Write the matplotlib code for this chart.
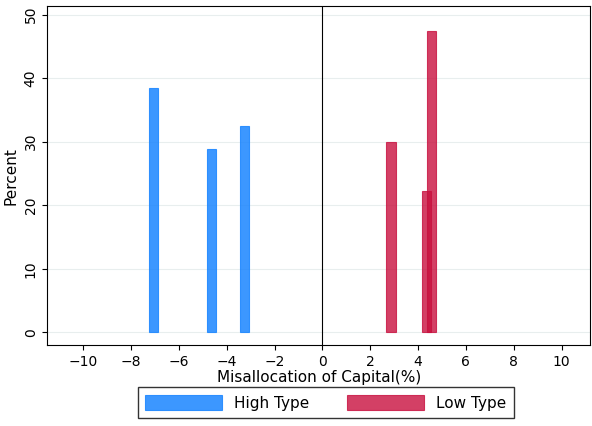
import matplotlib.pyplot as plt

high_x = [-7.07, -4.62, -3.24]
high_pct = [38.5, 28.8, 32.5]
low_x = [2.87, 4.35, 4.57]
low_pct = [30.0, 22.2, 47.5]
xticks = list(range(-10, 11, 2))
yticks = [0, 10, 20, 30, 40, 50]

fig = plt.figure(figsize=(5.92, 4.26), dpi=100)
ax = fig.add_axes([0.08, 0.19, 0.917, 0.795])
w = 0.38
ax.bar(high_x, high_pct, width=w, color="#1a85ff", alpha=0.85, edgecolor="#1a85ff", linewidth=0.8, label="High Type")
ax.bar(low_x, low_pct, width=w, color="#c8103e", alpha=0.8, edgecolor="#c8103e", linewidth=0.8, label="Low Type")
ax.axvline(0, color="black", linewidth=0.8)
ax.set_xlim(-11.5, 11.2)
ax.set_ylim(-2, 51.3)
ax.set_xticks(xticks)
ax.set_yticks(yticks)
ax.set_yticklabels([str(v) for v in yticks], rotation=90, va="center")
ax.grid(axis="y", color="#e8eeee", linewidth=0.8)
ax.set_axisbelow(True)
ax.set_xlabel("Misallocation of Capital(%)", fontsize=11, labelpad=1)
ax.set_ylabel("Percent", fontsize=11)
ax.tick_params(labelsize=10)
for s in ax.spines.values():
    s.set_linewidth(0.8)
fig.legend(loc="lower center", bbox_to_anchor=(0.55, 0.0), ncol=2, fontsize=11,
           frameon=True, fancybox=False, edgecolor="black", handlelength=5,
           handleheight=1.2, columnspacing=2.5, borderpad=0.5)
fig.savefig("out.png")
